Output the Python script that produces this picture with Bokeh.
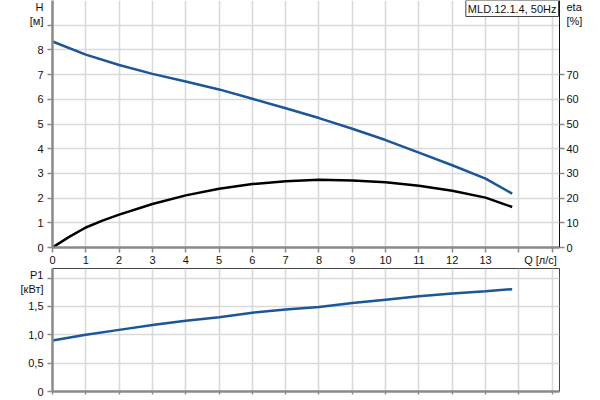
from bokeh.plotting import figure
from bokeh.models import Range1d, LinearAxis, FixedTicker, Label
from bokeh.layouts import column
from bokeh.embed import file_html
from bokeh.resources import INLINE

# ---- data ----
q_h = [0, 1, 2, 3, 4, 5, 6, 7, 8, 9, 10, 11, 12, 13, 13.8]
head = [8.34, 7.81, 7.39, 7.03, 6.72, 6.40, 6.02, 5.64, 5.24, 4.81, 4.35, 3.84, 3.33, 2.79, 2.18]

q_eta = [0, 0.5, 1, 1.5, 2, 3, 4, 5, 6, 7, 8, 9, 10, 11, 12, 13, 13.8]
eta = [0, 4.3, 8.1, 10.9, 13.3, 17.6, 21.1, 23.8, 25.7, 26.8, 27.4, 27.1, 26.4, 25.0, 23.0, 20.2, 16.4]

q_p = [0, 1, 2, 3, 4, 5, 6, 7, 8, 9, 10, 11, 12, 13, 13.8]
p1 = [0.90, 1.00, 1.087, 1.175, 1.25, 1.31, 1.39, 1.446, 1.49, 1.56, 1.62, 1.68, 1.73, 1.77, 1.805]

x_grid = list(range(0, 16))
x_label_pos = list(range(0, 14)) + [14.65]
x_labels = {14.65: "Q [л/с]"}
h_grid = list(range(0, 11))
h_tick_marks = list(range(0, 10))
h_label_pos = list(range(0, 9)) + [9.56]
h_labels = {9.56: "H\n[м]"}
eta_label_pos = [0, 10, 20, 30, 40, 50, 60, 70, 95.6]
eta_tick_marks = [0, 10, 20, 30, 40, 50, 60, 70]
eta_labels = {95.6: "eta\n[%]"}
p_grid = [0, 0.5, 1.0, 1.5, 2.0]
p_labels = {0: "0", 0.5: "0,5", 1: "1,0", 1.5: "1,5", 2: "P1\n[кВт]"}

title_text = "MLD.12.1.4, 50Hz"

BLUE = "#1b5797"
FONT = "Liberation Sans"
FS = "11px"
GRID = "#d9d9d9"
AXIS = "#8a8a8a"
XMAX = 15.22


def style_axis(ax, major_out=0):
    ax.axis_line_color = AXIS
    ax.axis_line_width = 2.5
    ax.major_tick_line_color = AXIS
    ax.major_tick_line_width = 1.5
    ax.major_tick_out = major_out
    ax.major_tick_in = 0
    ax.minor_tick_line_color = AXIS
    ax.minor_tick_line_width = 1.5
    ax.minor_tick_out = 5
    ax.minor_tick_in = 0
    ax.major_label_text_font = FONT
    ax.major_label_text_font_size = FS
    ax.major_label_text_color = "#111111"


# ---- top figure: H and eta ----
top = figure(width=600, height=268, output_backend="svg", toolbar_location=None,
             x_range=Range1d(0, XMAX), y_range=Range1d(0, 10),
             min_border_left=52, min_border_right=41, min_border_top=0, min_border_bottom=19)
top.outline_line_color = None
top.extra_y_ranges = {"eta": Range1d(0, 100)}

style_axis(top.xaxis[0])
style_axis(top.yaxis[0])
top.xaxis[0].ticker = FixedTicker(ticks=x_label_pos, minor_ticks=x_grid)
top.xaxis[0].major_label_overrides = x_labels
top.xaxis[0].major_label_standoff = 1
top.yaxis[0].ticker = FixedTicker(ticks=h_label_pos, minor_ticks=h_tick_marks)
top.yaxis[0].major_label_overrides = h_labels
top.yaxis[0].major_label_standoff = 4

rax = LinearAxis(y_range_name="eta",
                 ticker=FixedTicker(ticks=eta_label_pos, minor_ticks=eta_tick_marks))
style_axis(rax)
rax.major_label_overrides = eta_labels
rax.axis_line_color = "#111111"
rax.axis_line_width = 1
rax.major_label_standoff = 2
top.add_layout(rax, "right")

top.xgrid.ticker = FixedTicker(ticks=x_grid)
top.ygrid.ticker = FixedTicker(ticks=h_grid)
for g in (top.xgrid[0], top.ygrid[0]):
    g.grid_line_color = GRID
    g.grid_line_width = 1.6

top.line(q_h, head, line_color=BLUE, line_width=2.5)
top.line(q_eta, eta, line_color="black", line_width=2.5, y_range_name="eta")

top.add_layout(Label(x=XMAX, y=10, text=title_text, text_font=FONT, text_font_size=FS,
                     text_color="#111111", text_align="right", text_baseline="top",
                     x_offset=-1, y_offset=0,
                     background_fill_color="white", border_line_color="#444444",
                     border_line_width=1, padding=2))

# ---- bottom figure: P1 ----
bot = figure(width=600, height=132, output_backend="svg", toolbar_location=None,
             x_range=top.x_range, y_range=Range1d(0, 2.17),
             min_border_left=52, min_border_right=41, min_border_top=0, min_border_bottom=9)
bot.outline_line_color = "#444444"
bot.outline_line_width = 1
style_axis(bot.xaxis[0])
style_axis(bot.yaxis[0], major_out=5)
bot.xaxis[0].ticker = FixedTicker(ticks=[], minor_ticks=x_grid)
bot.xaxis[0].minor_tick_out = 3
bot.xaxis[0].major_label_standoff = 0
bot.yaxis[0].ticker = FixedTicker(ticks=p_grid)
bot.yaxis[0].major_label_overrides = p_labels
bot.yaxis[0].major_label_standoff = 4
bot.xgrid.ticker = FixedTicker(ticks=x_grid)
bot.ygrid.ticker = FixedTicker(ticks=p_grid)
for g in (bot.xgrid[0], bot.ygrid[0]):
    g.grid_line_color = GRID
    g.grid_line_width = 1.6

bot.line(q_p, p1, line_color=BLUE, line_width=2.5)

layout = column(top, bot, spacing=0)
open("out.html", "w").write(file_html(layout, INLINE))
